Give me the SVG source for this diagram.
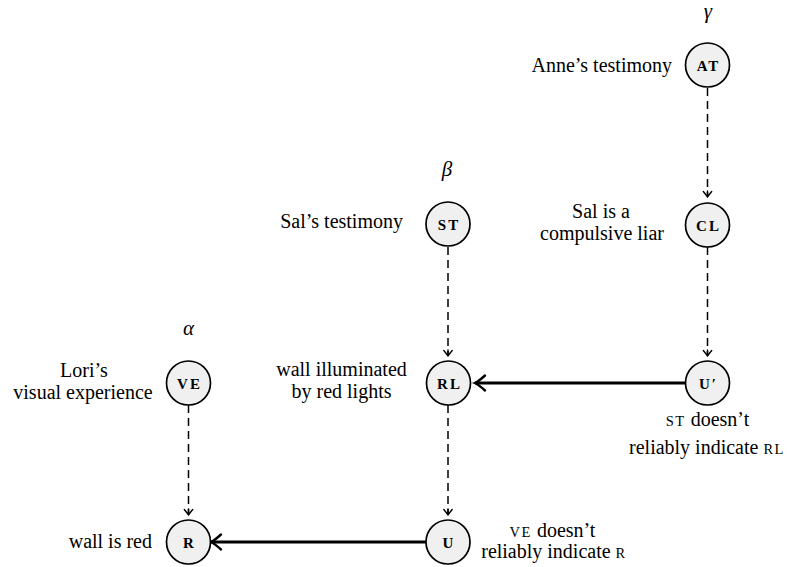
<svg xmlns="http://www.w3.org/2000/svg" width="788" height="567" viewBox="0 0 788 567">
<style>
  .node circle { fill: #f0f0f0; stroke: #000; stroke-width: 1.7; }
  text { font-family: "Liberation Serif", "DejaVu Serif", "Times New Roman", serif; fill: #000; }
  .nl { font-size: 15px; letter-spacing: 2px; text-anchor: middle; font-weight: bold; }
  .lbl { font-size: 20px; }
  .sc { font-size: 14.5px; letter-spacing: 1.5px; }
  .greek { font-size: 21px; font-style: italic; text-anchor: middle; }
  .dash { fill: none; stroke: #000; stroke-width: 1.5; stroke-dasharray: 8 5; }
  .thick { fill: none; stroke: #000; stroke-width: 3; }
</style>
<defs>
  <marker id="hd" markerUnits="userSpaceOnUse" markerWidth="14" markerHeight="14" viewBox="-10 -7 14 14" refX="0" refY="0" orient="auto">
    <path d="M-6,0 L0,0 M-5.5,-4.2 Q-1.5,-0.9 0,0 Q-1.5,0.9 -5.5,4.2" fill="none" stroke="#000" stroke-width="1.4" stroke-linecap="round"/>
  </marker>
  <marker id="ht" markerUnits="userSpaceOnUse" markerWidth="20" markerHeight="20" viewBox="-14 -10 18 20" refX="0" refY="0" orient="auto">
    <path d="M-10,-7.5 Q-3,-1.2 0,0 Q-3,1.2 -10,7.5" fill="none" stroke="#000" stroke-width="2.4" stroke-linecap="round"/>
  </marker>
</defs>

<g id="connectors">
  <line class="dash" x1="707.5" y1="88" x2="707.5" y2="197" marker-end="url(#hd)"/>
  <line class="dash" x1="707.5" y1="247" x2="707.5" y2="356" marker-end="url(#hd)"/>
  <line class="dash" x1="448" y1="247" x2="448" y2="356" marker-end="url(#hd)"/>
  <line class="dash" x1="448" y1="405" x2="448" y2="515" marker-end="url(#hd)"/>
  <line class="dash" x1="188.5" y1="405" x2="188.5" y2="515" marker-end="url(#hd)"/>
  <line class="thick" x1="685" y1="383" x2="475" y2="383" marker-end="url(#ht)"/>
  <line class="thick" x1="426" y1="542" x2="211" y2="542" marker-end="url(#ht)"/>
</g>

<g id="greek">
  <text class="greek" x="708" y="18">γ</text>
  <text class="greek" x="447" y="176">β</text>
  <text class="greek" x="188.5" y="335">α</text>
</g>

<g id="node-AT" class="node">
  <circle cx="707.5" cy="65" r="22"/>
  <text class="nl" x="708.5" y="70.5">AT</text>
  <text class="lbl" x="672" y="72" text-anchor="end">Anne’s testimony</text>
</g>

<g id="node-CL" class="node">
  <circle cx="707.5" cy="225" r="22"/>
  <text class="nl" x="708.5" y="230.5">CL</text>
  <text class="lbl" x="601" y="218" text-anchor="middle">Sal is a</text>
  <text class="lbl" x="602" y="240" text-anchor="middle">compulsive liar</text>
</g>

<g id="node-ST" class="node">
  <circle cx="448" cy="224" r="22"/>
  <text class="nl" x="449" y="229.5">ST</text>
  <text class="lbl" x="403" y="228" text-anchor="end">Sal’s testimony</text>
</g>

<g id="node-U2" class="node">
  <circle cx="707.5" cy="383" r="22"/>
  <text class="nl" x="708.5" y="388.5">U′</text>
  <text class="lbl" x="707.5" y="426" text-anchor="middle"><tspan class="sc">ST</tspan> doesn’t</text>
  <text class="lbl" x="707" y="454" text-anchor="middle">reliably indicate <tspan class="sc">RL</tspan></text>
</g>

<g id="node-RL" class="node">
  <circle cx="448.5" cy="383" r="22"/>
  <text class="nl" x="449.5" y="388.5">RL</text>
  <text class="lbl" x="341.5" y="376" text-anchor="middle">wall illuminated</text>
  <text class="lbl" x="341.5" y="398" text-anchor="middle">by red lights</text>
</g>

<g id="node-VE" class="node">
  <circle cx="188.5" cy="383" r="22"/>
  <text class="nl" x="189.5" y="388.5">VE</text>
  <text class="lbl" x="84" y="377" text-anchor="middle">Lori’s</text>
  <text class="lbl" x="83" y="398.5" text-anchor="middle">visual experience</text>
</g>

<g id="node-U" class="node">
  <circle cx="448" cy="542" r="22"/>
  <text class="nl" x="449" y="547.5">U</text>
  <text class="lbl" x="552.5" y="537" text-anchor="middle"><tspan class="sc">VE</tspan> doesn’t</text>
  <text class="lbl" x="554" y="558" text-anchor="middle">reliably indicate <tspan class="sc">R</tspan></text>
</g>

<g id="node-R" class="node">
  <circle cx="188.5" cy="542" r="22"/>
  <text class="nl" x="189.5" y="547.5">R</text>
  <text class="lbl" x="152" y="548" text-anchor="end">wall is red</text>
</g>
</svg>
